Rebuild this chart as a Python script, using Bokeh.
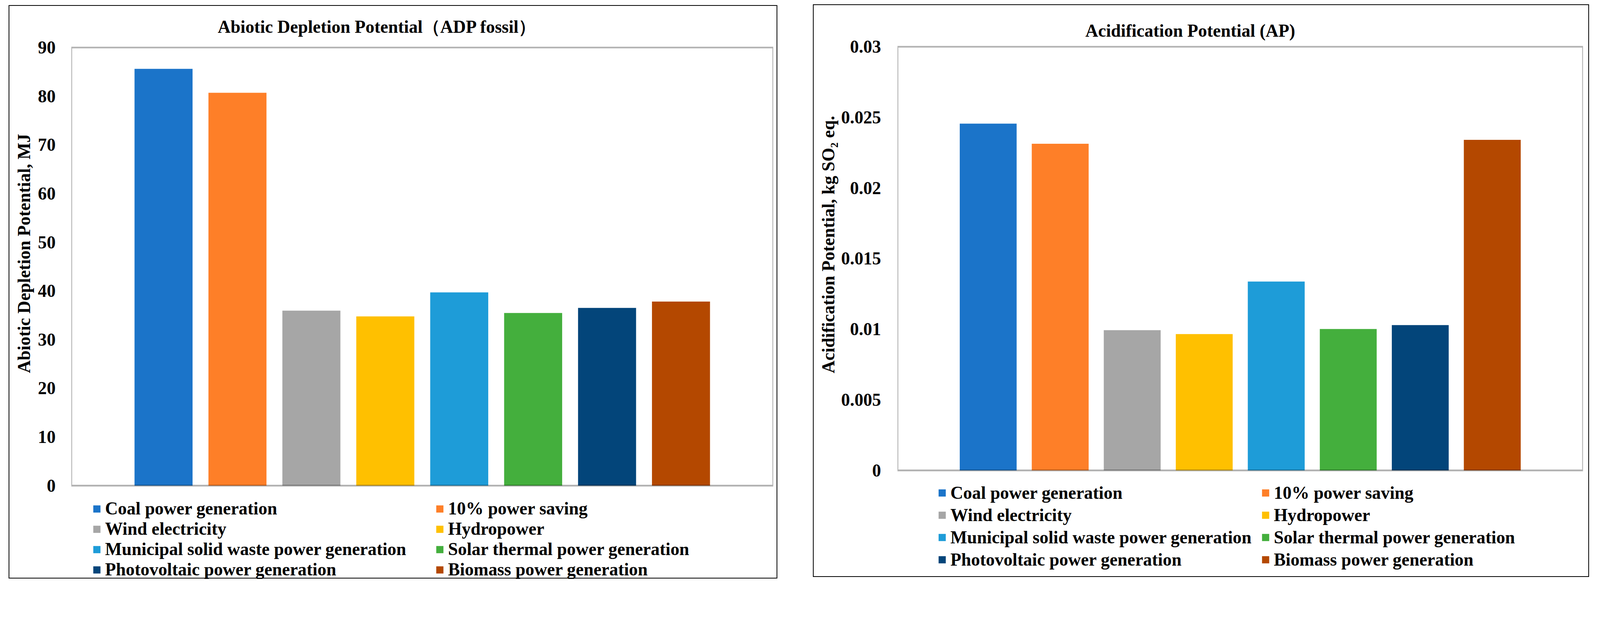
from bokeh.plotting import figure
from bokeh.models import (FactorRange, Range1d, FixedTicker, CustomJSTickFormatter,
                          Legend, LegendItem, ColumnDataSource, BoxAnnotation, Title)
from bokeh.layouts import row
from bokeh.embed import file_html
from bokeh.resources import INLINE

# ---------------- data ----------------
categories = ["Coal power generation", "10% power saving", "Wind electricity", "Hydropower",
              "Municipal solid waste power generation", "Solar thermal power generation",
              "Photovoltaic power generation", "Biomass power generation"]
bar_colors = ["#1B74C9", "#FE7F28", "#A6A6A6", "#FFC000",
              "#1E9CD8", "#44AF3D", "#03457A", "#B44800"]
adp_values = [85.6, 80.7, 35.95, 34.75, 39.7, 35.45, 36.5, 37.8]
ap_values = [0.02455, 0.02313, 0.00993, 0.00965, 0.01337, 0.01001, 0.01029, 0.0234]
adp_ticks = [0, 10, 20, 30, 40, 50, 60, 70, 80, 90]
ap_ticks = [0, 0.005, 0.01, 0.015, 0.02, 0.025, 0.03]

adp_title = "Abiotic Depletion Potential（ADP fossil）"
ap_title = "Acidification Potential (AP)"
adp_ylabel = "Abiotic Depletion Potential, MJ"
ap_ylabel = "Acidification Potential, kg SO\u2082 eq."

FONT = "Liberation Serif"
FS = "45.4px"


def make_panel(values, ticks, ymax, title, ylabel, cfg):
    src = ColumnDataSource(dict(cat=categories, val=values, color=bar_colors))
    plot_px = cfg["plot_px"]
    y0 = -ymax * cfg["extra_px"] / plot_px
    y1 = ymax * (1 + cfg["top_pad"] / plot_px)
    p = figure(width=cfg["w"], height=cfg["h"],
               x_range=FactorRange(*categories, range_padding=cfg["pad"],
                                   range_padding_units="percent"),
               y_range=Range1d(y0, y1), x_axis_location=None,
               output_backend="svg", toolbar_location=None,
               min_border_left=cfg["bl"], min_border_right=cfg["br"],
               min_border_top=cfg["bt"], min_border_bottom=cfg["bb"],
               margin=cfg["margin"],
               styles={"border": "2px solid black"})
    r = p.vbar(x="cat", top="val", width=cfg["bw"], color="color", line_color=None, source=src)

    p.background_fill_color = "white"
    p.border_fill_color = "white"
    p.outline_line_color = None
    p.xgrid.visible = False
    p.ygrid.visible = False

    # the plot box (value axis from 0 to max)
    box = BoxAnnotation(bottom=0, top=ymax, fill_alpha=0, line_color="black",
                        line_width=4.4, level="overlay")
    p.add_layout(box)

    ax = p.yaxis[0]
    ax.ticker = FixedTicker(ticks=ticks)
    ax.formatter = CustomJSTickFormatter(code="return String(Number(tick.toFixed(4)));")
    ax.axis_line_color = None
    ax.major_tick_line_color = None
    ax.minor_tick_line_color = None
    ax.major_tick_out = 0
    ax.major_tick_in = 0
    ax.major_label_standoff = cfg["standoff"]
    ax.major_label_text_font = FONT
    ax.major_label_text_font_style = "bold"
    ax.major_label_text_font_size = FS
    ax.major_label_text_color = "black"

    ylab = Title(text=ylabel, align="right", offset=cfg["yoff"], standoff=cfg["ystand"],
                 text_font=FONT, text_font_style="bold", text_font_size=FS,
                 text_color="black")
    p.add_layout(ylab, "left")

    p.title.text = title
    p.title.align = "left"
    p.title.offset = cfg["toff"]
    p.title.standoff = cfg["tstand"]
    p.title.text_font = FONT
    p.title.text_font_style = "bold"
    p.title.text_font_size = FS
    p.title.text_color = "black"

    items = [LegendItem(label=c, renderers=[r], index=i) for i, c in enumerate(categories)]
    lg = Legend(items=items, location=cfg["legloc"], orientation="horizontal", ncols=2,
                glyph_width=23, glyph_height=23, label_standoff=10,
                label_height=cfg["lh"], label_width=cfg["lw"], spacing=0,
                padding=0, margin=0, border_line_color=None,
                background_fill_alpha=0,
                label_text_font=FONT, label_text_font_style="bold",
                label_text_font_size=FS, label_text_color="black")
    p.add_layout(lg)
    return p


left_cfg = dict(w=1968, h=1468, bl=158, br=13, bt=104, bb=1, margin=(13, 0, 0, 22),
                plot_px=1121.7, extra_px=239.3, top_pad=2,
                pad=0.187, bw=0.785, standoff=40, toff=375, tstand=51,
                yoff=223, ystand=16,
                legloc=(54, -2), lh=52, lw=845)
right_cfg = dict(w=1987, h=1466, bl=214, br=18, bt=91, bb=1, margin=(11, 0, 0, 91),
                 plot_px=1095.1, extra_px=276.9, top_pad=2,
                 pad=0.190, bw=0.79, standoff=42, toff=481, tstand=28,
                 yoff=179, ystand=10,
                 legloc=(103, 17), lh=57, lw=795)

p1 = make_panel(adp_values, adp_ticks, 90, adp_title, adp_ylabel, left_cfg)
p2 = make_panel(ap_values, ap_ticks, 0.03, ap_title, ap_ylabel, right_cfg)

layout = row(p1, p2)
open("out.html", "w").write(file_html(layout, INLINE))
